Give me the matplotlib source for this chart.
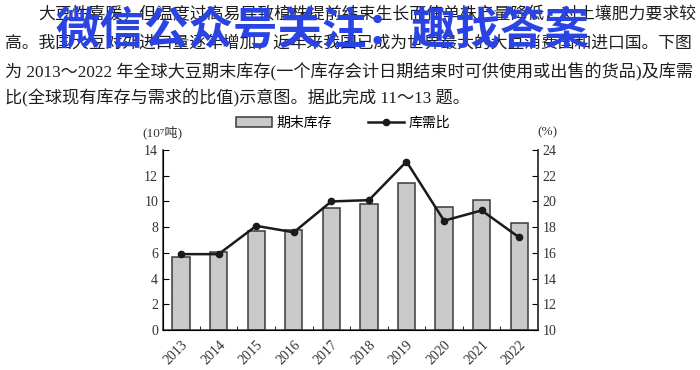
import matplotlib
matplotlib.use("Agg")
import matplotlib.pyplot as plt
import numpy as np

# data
years = ["2013", "2014", "2015", "2016", "2017", "2018", "2019", "2020", "2021", "2022"]
stock = [5.7, 6.1, 7.7, 7.8, 9.5, 9.8, 11.4, 9.6, 10.1, 8.3]          # 10^7 t
ratio = [15.9, 15.9, 18.1, 17.6, 20.0, 20.1, 23.1, 18.5, 19.3, 17.2]  # %

left_ticks = [0, 2, 4, 6, 8, 10, 12, 14]
right_ticks = [10, 12, 14, 16, 18, 20, 22, 24]

para = [
    "大豆性喜暖，但温度过高易导致植株提前结束生长而使单株产量降低，对土壤肥力要求较",
    "高。我国大豆对外进口量逐年增加，近年来我国已成为世界最大的大豆消费国和进口国。下图",
    "为 2013～2022 年全球大豆期末库存(一个库存会计日期结束时可供使用或出售的货品)及库需",
    "比(全球现有库存与需求的比值)示意图。据此完成 11～13 题。",
]
watermark = "微信公众号关注：趣找答案"

CJK = ["Noto Sans CJK SC", "DejaVu Sans"]
SERIF_CJK = ["Liberation Serif", "DejaVu Serif", "Noto Sans CJK SC"]
plt.rcParams["font.family"] = CJK

W, H = 700, 370
fig = plt.figure(figsize=(W / 100, H / 100), dpi=100)
renderer = fig.canvas.get_renderer()

def px(x, y):
    return x / W, 1 - y / H

# paragraph, first three lines stretched to the full column width,
# last line keeps the size of the line above
line_x = [38, 5, 5, 5]
line_y = [15, 43, 72, 98]
line_w = [657, 690, 690, None]
base_fs = 11.6
fs = base_fs
for s, lx, ly, lw in zip(para, line_x, line_y, line_w):
    t = fig.text(*px(lx, ly), s, fontsize=base_fs, color="#1e1e1e", ha="left", va="center",
                 family=SERIF_CJK)
    if lw:
        w = t.get_window_extent(renderer).width
        fs = base_fs * lw / w
    t.set_fontsize(fs)

# chart
ax = fig.add_axes([163 / W, 40 / H, 375 / W, 180 / H])
x = np.arange(len(years))
bars = ax.bar(x, stock, width=0.46, color="#c9c9c9", edgecolor="#3a3a3a", linewidth=1.1,
              label="期末库存", zorder=2)
ax.set_xlim(-0.48, 9.45)
ax.set_ylim(0, 14)
ax.set_yticks(left_ticks)
ax.set_xticks(x)
ax.set_xticklabels(years, rotation=45, ha="right", rotation_mode="anchor")
ax.set_xticks(x + 0.5, minor=True)
ax.tick_params(axis="x", which="major", length=0, pad=6)
ax.tick_params(axis="x", which="minor", direction="in", length=3)
ax.tick_params(axis="y", direction="in", length=4)
ax.spines["top"].set_visible(False)
for sp in ["left", "bottom", "right"]:
    ax.spines[sp].set_color("#3a3a3a")
    ax.spines[sp].set_linewidth(1.1)

ax2 = ax.twinx()
line, = ax2.plot(x, ratio, color="#1a1a1a", linewidth=1.8, marker="o", markersize=4.5,
                 label="库需比", zorder=3)
ax2.set_ylim(10, 24)
ax2.set_yticks(right_ticks)
ax2.tick_params(axis="y", direction="in", length=4)
ax2.spines["top"].set_visible(False)
ax2.spines["right"].set_color("#3a3a3a")
ax2.spines["right"].set_linewidth(1.1)

for a in (ax, ax2):
    for lab in a.get_xticklabels() + a.get_yticklabels():
        lab.set_family(SERIF_CJK)
        lab.set_fontsize(10)
        lab.set_color("#333333")

# unit labels
fig.text(*px(142, 132), "(10⁷吨)", fontsize=9.5, color="#333333", ha="left", va="center",
         family=SERIF_CJK)
fig.text(*px(537, 132), "(%)", fontsize=9.5, color="#333333", ha="left", va="center",
         family=SERIF_CJK)

fig.legend(handles=[bars, line], loc="center", bbox_to_anchor=px(343, 123), ncol=2,
           frameon=False, fontsize=10, handlelength=2.6, handleheight=0.7,
           columnspacing=2.6, handletextpad=0.3)

# blue watermark on top
fig.text(*px(55, 31), watermark, fontsize=32, fontweight="bold", color="#2a44e4",
         ha="left", va="center", family=CJK, zorder=10)

fig.savefig("out.png", dpi=100, facecolor="white")
